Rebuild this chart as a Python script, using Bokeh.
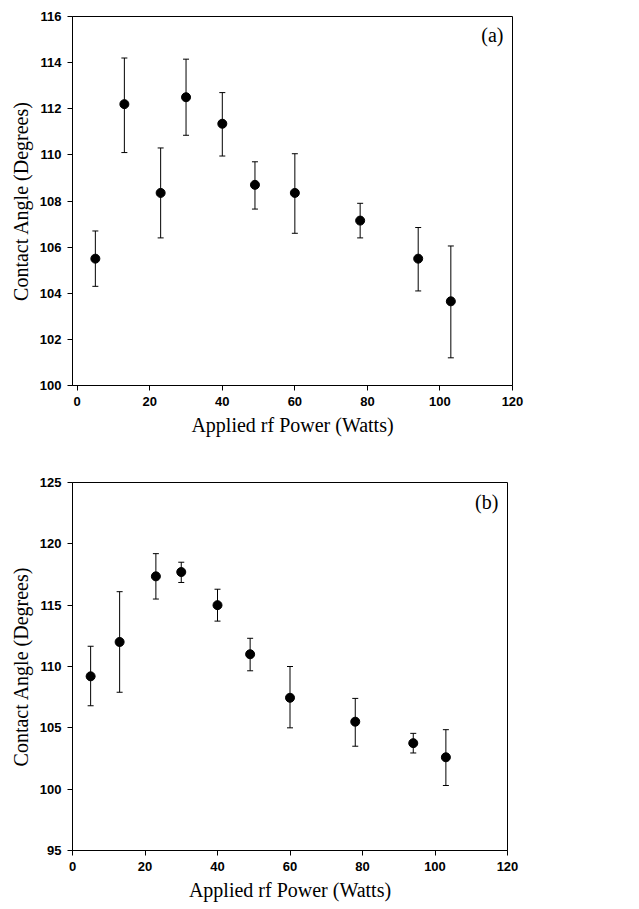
from bokeh.plotting import figure
from bokeh.layouts import column
from bokeh.models import ColumnDataSource, Whisker, TeeHead, Label, FixedTicker
from bokeh.embed import file_html
from bokeh.resources import INLINE

# Panel (a)
power_a = [5, 13, 23, 30, 40, 49, 60, 78, 94, 103]
angle_a = [105.5, 112.2, 108.35, 112.5, 111.35, 108.7, 108.35, 107.15, 105.5, 103.65]
upper_a = [106.7, 114.2, 110.3, 114.15, 112.7, 109.7, 110.05, 107.9, 106.85, 106.05]
lower_a = [104.3, 110.1, 106.4, 110.85, 109.95, 107.65, 106.6, 106.4, 104.1, 101.2]

# Panel (b)
power_b = [5, 13, 23, 30, 40, 49, 60, 78, 94, 103]
angle_b = [109.2, 112.0, 117.35, 117.7, 115.0, 111.0, 107.45, 105.5, 103.75, 102.6]
upper_b = [111.65, 116.1, 119.2, 118.5, 116.3, 112.3, 110.0, 107.4, 104.55, 104.85]
lower_b = [106.8, 107.9, 115.5, 116.85, 113.7, 109.65, 105.0, 103.5, 102.95, 100.3]

x_ticks = [0, 20, 40, 60, 80, 100, 120]
y_ticks_a = [100, 102, 104, 106, 108, 110, 112, 114, 116]
y_ticks_b = [95, 100, 105, 110, 115, 120, 125]

SERIF = "Liberation Serif"
SANS = "Liberation Sans"


def make_panel(xs, ys, ups, lows, x_range, y_range, yticks, tag, tag_xy,
               fw, fh, left, top, bottom):
    p = figure(frame_width=fw, frame_height=fh, x_range=x_range, y_range=y_range,
               output_backend="svg", toolbar_location=None,
               min_border_left=left, min_border_right=20,
               min_border_top=top, min_border_bottom=bottom)
    p.grid.visible = False
    p.outline_line_color = "black"
    p.outline_line_width = 1
    p.background_fill_color = "white"
    p.border_fill_color = "white"

    for ax in (p.xaxis[0], p.yaxis[0]):
        ax.axis_line_color = "black"
        ax.axis_line_width = 1
        ax.major_tick_line_color = "black"
        ax.major_tick_out = 5
        ax.major_tick_in = 0
        ax.minor_tick_line_color = None
        ax.major_label_text_font = SANS
        ax.major_label_text_font_style = "bold"
        ax.major_label_text_font_size = "13px"
        ax.major_label_text_color = "black"
        ax.axis_label_text_font = SERIF
        ax.axis_label_text_font_style = "normal"
        ax.axis_label_text_font_size = "20px"
        ax.axis_label_text_color = "black"
        ax.major_label_standoff = 6
        ax.axis_label_standoff = 5

    p.xaxis.ticker = FixedTicker(ticks=x_ticks)
    p.yaxis.ticker = FixedTicker(ticks=yticks)
    p.xaxis.axis_label = "Applied rf Power (Watts)"
    p.yaxis.axis_label = "Contact Angle (Degrees)"

    src = ColumnDataSource(dict(x=xs, y=ys, upper=ups, lower=lows))
    w = Whisker(source=src, base="x", upper="upper", lower="lower",
                line_color="black", line_width=1,
                upper_head=TeeHead(size=6, line_color="black", line_width=1),
                lower_head=TeeHead(size=6, line_color="black", line_width=1))
    p.add_layout(w)
    p.scatter("x", "y", source=src, size=9, fill_color="black", line_color="black")

    p.add_layout(Label(x=tag_xy[0], y=tag_xy[1], text=tag, text_font=SERIF,
                       text_font_size="20px", text_align="right",
                       text_baseline="middle", text_color="black"))
    return p


p1 = make_panel(power_a, angle_a, upper_a, lower_a, (-1.3, 120), (100, 116),
                y_ticks_a, "(a)", (117.5, 115.2), 440, 369, 72, 16, 60)
p2 = make_panel(power_b, angle_b, upper_b, lower_b, (0, 120), (95, 125),
                y_ticks_b, "(b)", (117.5, 123.4), 435, 368, 68, 37, 50)

layout = column(p1, p2, spacing=0)
open("out.html", "w").write(file_html(layout, INLINE))
